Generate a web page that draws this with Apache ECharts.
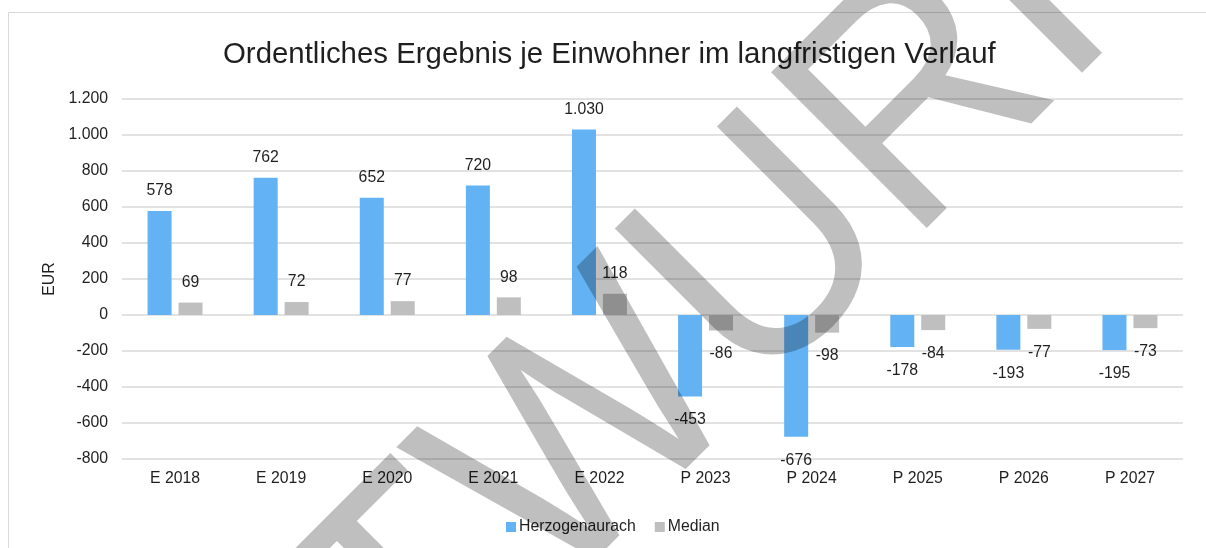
<!DOCTYPE html>
<html>
<head>
<meta charset="utf-8">
<script src="https://cdn.jsdelivr.net/npm/echarts@6/dist/echarts.min.js"></script>
<style>
  html, body { margin: 0; padding: 0; background: #fff; }
  #chart { width: 1206px; height: 548px; }
</style>
</head>
<body>
<div id="chart"></div>
<script>
const categories = ['E 2018', 'E 2019', 'E 2020', 'E 2021', 'E 2022', 'P 2023', 'P 2024', 'P 2025', 'P 2026', 'P 2027'];
const herzogenaurach = [578, 762, 652, 720, 1030, -453, -676, -178, -193, -195];
const median = [69, 72, 77, 98, 118, -86, -98, -84, -77, -73];
const seriesNames = ['Herzogenaurach', 'Median'];
const yMin = -800;
const yMax = 1200;
const yStep = 200;

const FONT = '"Liberation Sans", Arial, sans-serif';
const TEXT = '#1f1f1f';
const FS = 15.8;

// German thousands separator: 1030 -> 1.030
const fmt = (v) => {
  const s = String(Math.abs(v)).replace(/\B(?=(\d{3})+(?!\d))/g, '.');
  return (v < 0 ? '-' : '') + s;
};

const barSeries = (name, values, color) => ({
  name,
  type: 'bar',
  barWidth: 24,
  barGap: '29%',
  itemStyle: { color },
  label: {
    show: true,
    position: 'outside',
    distance: 12,
    fontFamily: FONT,
    fontSize: FS,
    color: TEXT,
    formatter: (p) => fmt(p.value)
  },
  // labels under negative bars sit a little further away
  data: values.map((v) => (v < 0 ? { value: v, label: { distance: 15.5 } } : v))
});

const chart = echarts.init(document.getElementById('chart'), null, { renderer: 'canvas' });

chart.setOption({
  backgroundColor: '#fff',
  animation: false,
  title: {
    text: 'Ordentliches Ergebnis je Einwohner im langfristigen Verlauf',
    left: 218,
    top: 35,
    textStyle: { fontFamily: FONT, fontSize: 29.4, fontWeight: 'normal', color: TEXT }
  },
  legend: {
    top: 514,
    left: 501,
    icon: 'rect',
    itemWidth: 10,
    itemHeight: 10,
    itemGap: 19,
    textStyle: { fontFamily: FONT, fontSize: FS, color: TEXT, padding: [0, 0, 0, -2] },
    data: seriesNames
  },
  grid: { left: 122, right: 23, top: 99, bottom: 89 },
  xAxis: {
    type: 'category',
    data: categories,
    axisLine: { show: false, onZero: false },
    axisTick: { show: false },
    axisLabel: { fontFamily: FONT, fontSize: FS, color: TEXT, margin: 12 }
  },
  yAxis: {
    type: 'value',
    min: yMin,
    max: yMax,
    interval: yStep,
    name: 'EUR',
    nameLocation: 'middle',
    nameRotate: 90,
    nameGap: 62,
    nameTextStyle: { fontFamily: FONT, fontSize: FS, color: TEXT },
    axisLine: { show: false },
    axisTick: { show: false },
    splitLine: { lineStyle: { color: '#d9d9d9', width: 1.5 } },
    axisLabel: { fontFamily: FONT, fontSize: FS, color: TEXT, margin: 14, formatter: fmt }
  },
  graphic: [
    {
      type: 'rect',
      silent: true,
      z: -1,
      shape: { x: 8.5, y: 12.5, width: 1400, height: 800 },
      style: { fill: 'none', stroke: '#d9d9d9', lineWidth: 1 }
    },
    {
      // draft watermark
      type: 'text',
      silent: true,
      z: 100,
      x: 596,
      y: 434,
      rotation: Math.PI / 4,
      scaleX: 0.95,
      style: {
        text: 'ENTWURF',
        font: '320px "Liberation Sans", Arial, sans-serif',
        fill: 'rgba(0,0,0,0.25)',
        align: 'center',
        verticalAlign: 'middle'
      }
    }
  ],
  series: [
    barSeries(seriesNames[0], herzogenaurach, '#62b2f4'),
    barSeries(seriesNames[1], median, '#bfbfbf')
  ]
});
</script>
</body>
</html>
